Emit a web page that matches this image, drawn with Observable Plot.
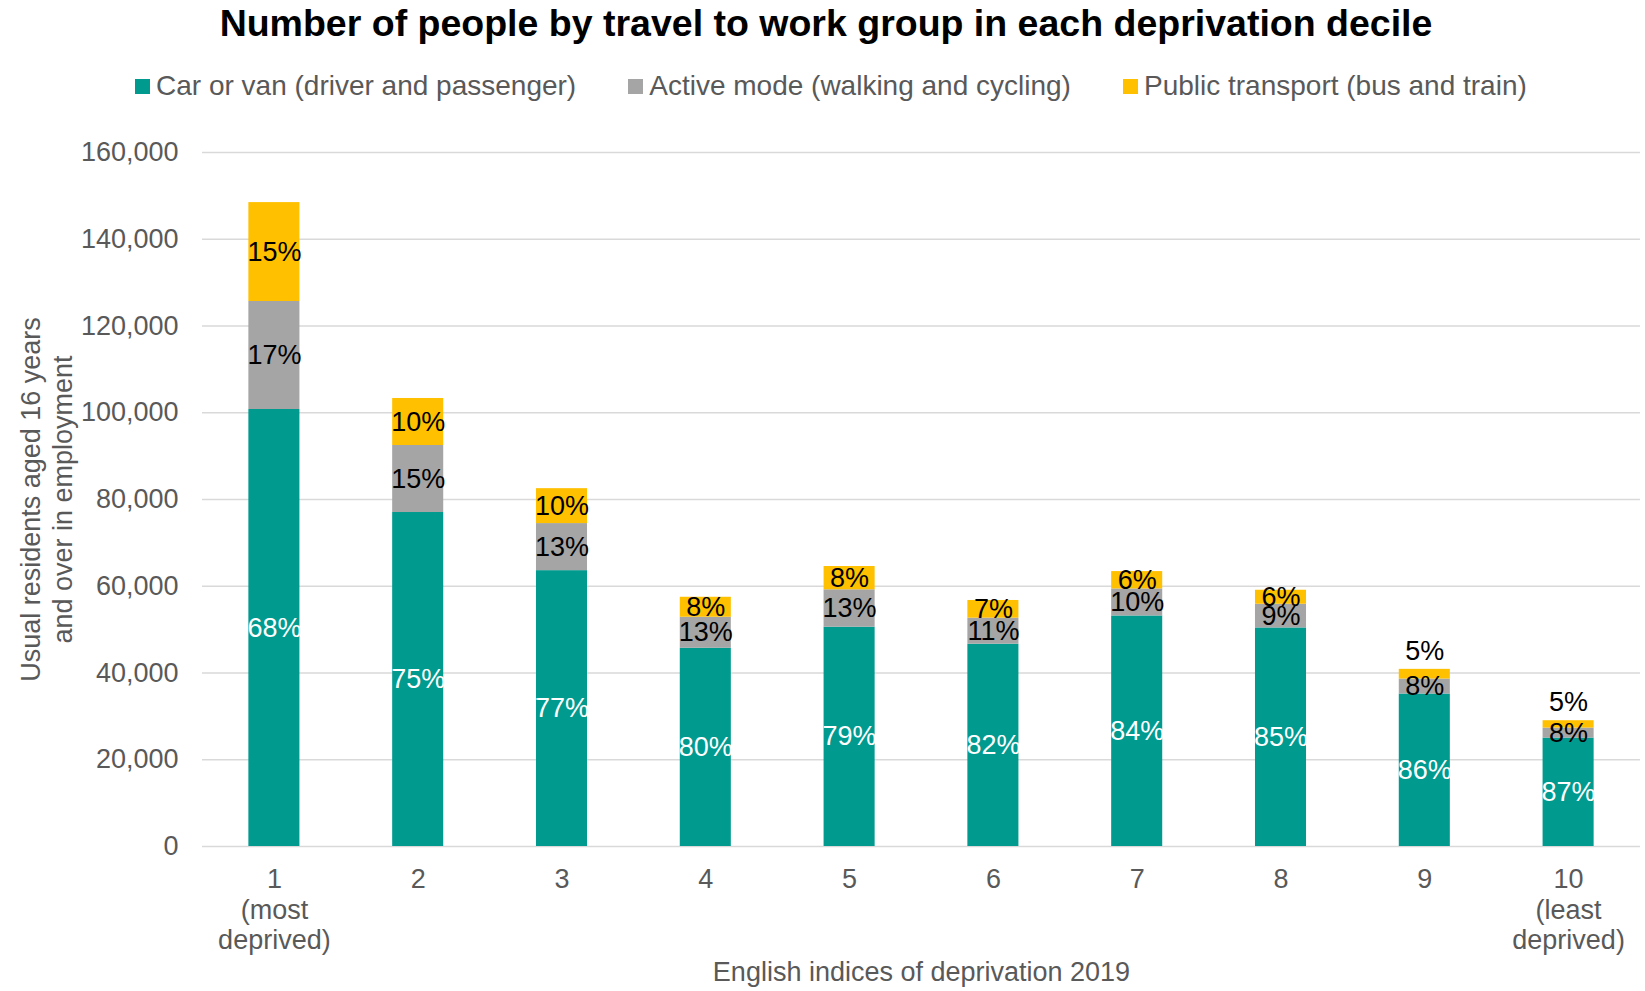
<!DOCTYPE html>
<html>
<head>
<meta charset="utf-8">
<script src="https://cdn.jsdelivr.net/npm/d3@7"></script>
<script src="https://cdn.jsdelivr.net/npm/@observablehq/plot@0.6"></script>
<style>
  body { margin: 0; background: #fff; font-family: "Liberation Sans", Arial, sans-serif; }
  #wrap { width: 1645px; height: 991px; overflow: hidden; }
  #title { height: 46px; line-height: 46px; text-align: center; font-weight: bold; font-size: 37.5px; color: #000; padding-left: 7px; white-space: nowrap; }
  #legend { height: 80px; display: flex; align-items: center; padding-left: 135px; font-size: 28px; color: #595959; white-space: nowrap; }
  .item { display: flex; align-items: center; margin-right: 52px; }
  .sw { width: 15px; height: 15px; margin-right: 6px; flex: none; }
  svg { display: block; }
</style>
</head>
<body>
<div id="wrap">
  <div id="title"></div>
  <div id="legend"></div>
  <div id="chart"></div>
</div>
<script>
// ---- data ----
const titleText = "Number of people by travel to work group in each deprivation decile";
const modes = ["Car or van (driver and passenger)", "Active mode (walking and cycling)", "Public transport (bus and train)"];
const deciles = ["1", "2", "3", "4", "5", "6", "7", "8", "9", "10"];
const xTickLabels = ["1\n(most\ndeprived)", "2", "3", "4", "5", "6", "7", "8", "9", "10\n(least\ndeprived)"];
const carValues    = [100750, 77000, 63600, 45700, 50560, 46640, 53150, 50390, 35150, 25000];
const activeValues = [24900, 15450, 10850, 7150, 8620, 6000, 6230, 5460, 3460, 2300];
const publicValues = [22800, 10840, 8050, 4610, 5370, 4080, 4000, 3230, 2230, 1700];
const carPct    = ["68%", "75%", "77%", "80%", "79%", "82%", "84%", "85%", "86%", "87%"];
const activePct = ["17%", "15%", "13%", "13%", "13%", "11%", "10%", "9%", "8%", "8%"];
const publicPct = ["15%", "10%", "10%", "8%", "8%", "7%", "6%", "6%", "5%", "5%"];
const yTicks = [0, 20000, 40000, 60000, 80000, 100000, 120000, 140000, 160000];
const yTitle = "Usual residents aged 16 years\nand over in employment";
const xTitle = "English indices of deprivation 2019";

// ---- build ----
const colors = ["#009A8F", "#A5A5A5", "#FFC000"];
const FONT = '"Liberation Sans", Arial, sans-serif';
document.getElementById("title").textContent = titleText;
const legend = document.getElementById("legend");
modes.forEach((m, i) => {
  const it = document.createElement("div");
  it.className = "item";
  const sw = document.createElement("span");
  sw.className = "sw";
  sw.style.background = colors[i];
  const tx = document.createElement("span");
  tx.textContent = m;
  it.appendChild(sw); it.appendChild(tx);
  legend.appendChild(it);
});

const seriesValues = [carValues, activeValues, publicValues];
const seriesPct = [carPct, activePct, publicPct];
const rows = [];
deciles.forEach((d, i) => {
  let base = 0;
  seriesValues.forEach((vals, j) => {
    const v = vals[i];
    rows.push({decile: d, mode: modes[j], idx: j, y1: base, y2: base + v, mid: base + v / 2, label: seriesPct[j][i], value: v});
    base += v;
  });
});
const isAbove = r => r.idx === 2 && r.value < 2500;
const carRows = rows.filter(r => r.idx === 0);
const otherInside = rows.filter(r => r.idx > 0 && !isAbove(r));
const aboveRows = rows.filter(isAbove);

const plot = Plot.plot({
  width: 1645,
  height: 865,
  marginTop: 26,
  marginBottom: 145,
  marginLeft: 202,
  marginRight: 5,
  style: {fontFamily: FONT, fontSize: "27px", color: "#595959", background: "white", overflow: "visible"},
  x: {domain: deciles, paddingInner: 0.645, paddingOuter: 0.3225, round: false, axis: null},
  y: {domain: [0, 160000], axis: null},
  color: {domain: modes, range: colors},
  marks: [
    Plot.gridY(yTicks, {stroke: "#D9D9D9", strokeOpacity: 1, strokeWidth: 1.5}),
    Plot.axisY(yTicks, {tickSize: 0, tickPadding: 24, tickFormat: d3.format(","), fontSize: 27, fill: "#595959", label: null}),
    Plot.barY(rows, {x: "decile", y1: "y1", y2: "y2", fill: "mode"}),
    Plot.text(carRows, {x: "decile", y: "mid", text: "label", fill: "white", fontSize: 27}),
    Plot.text(otherInside, {x: "decile", y: "mid", text: "label", fill: "black", fontSize: 27}),
    Plot.text(aboveRows, {x: "decile", y: "y2", text: "label", fill: "black", fontSize: 27, dy: -18}),
    Plot.text(deciles, {x: d => d, text: (d, i) => xTickLabels[i], frameAnchor: "bottom", lineAnchor: "top", dy: 20, lineHeight: 1.13, fill: "#595959", fontSize: 27}),
    Plot.text([yTitle], {text: d => d, frameAnchor: "left", textAnchor: "middle", rotate: -90, dx: -157, lineHeight: 1.185, fill: "#595959", fontSize: 27}),
    Plot.text([xTitle], {text: d => d, frameAnchor: "bottom", dy: 134, fill: "#595959", fontSize: 27})
  ]
});
document.getElementById("chart").appendChild(plot);
</script>
</body>
</html>
